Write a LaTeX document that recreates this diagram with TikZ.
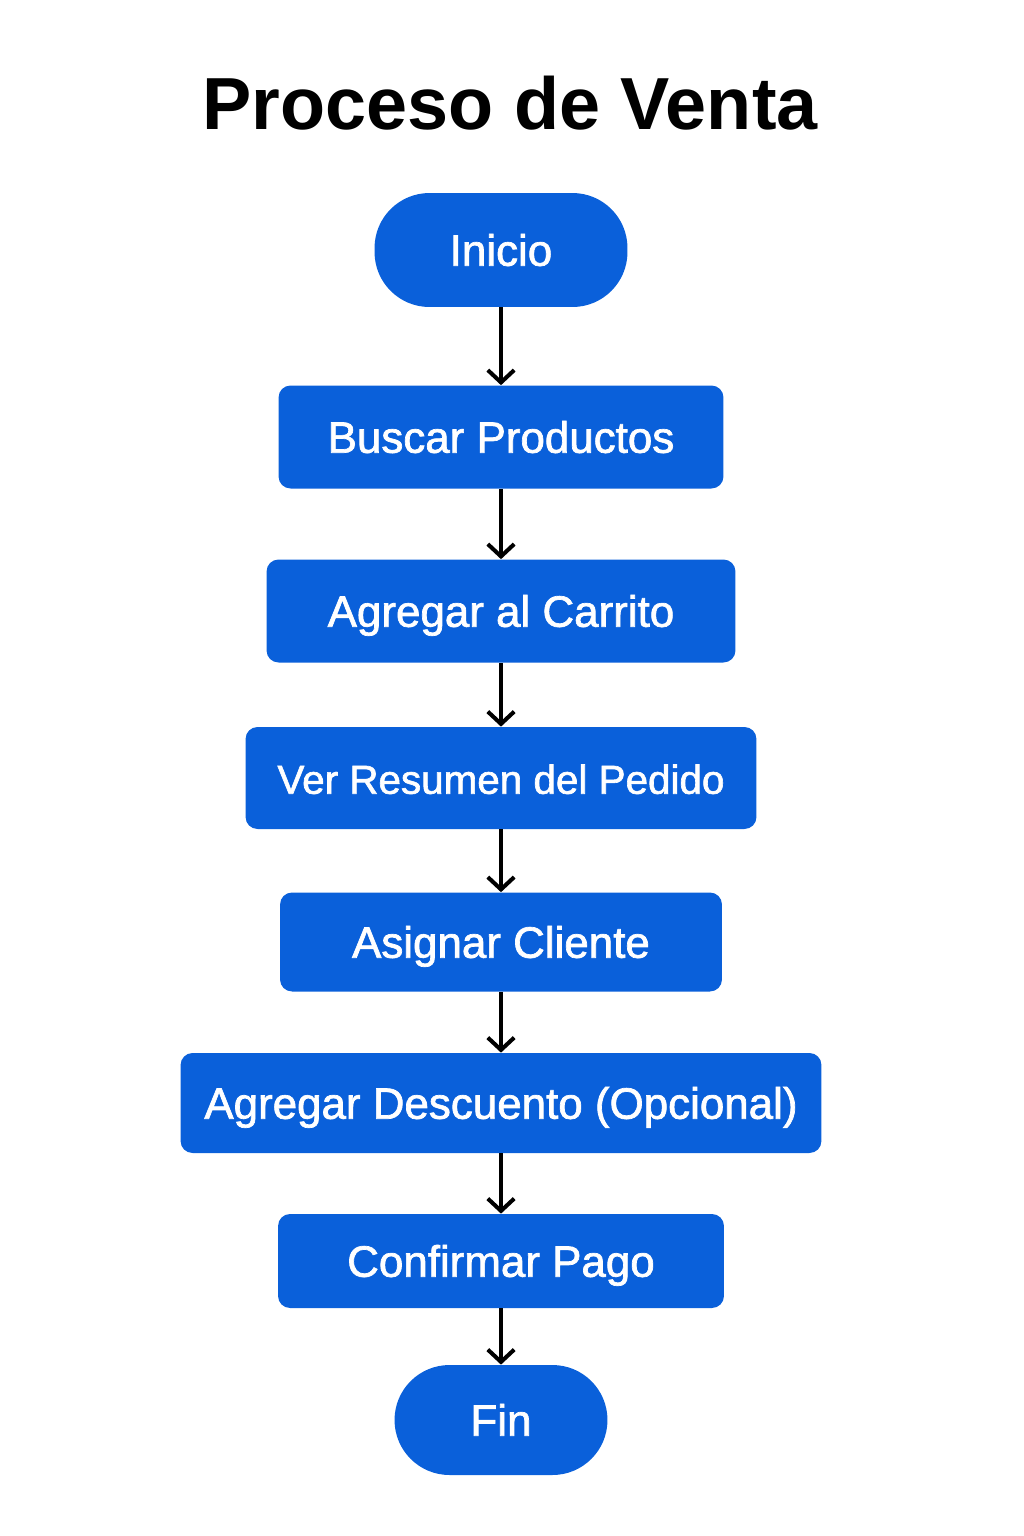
\documentclass[tikz,border=0pt]{standalone}
\usepackage{fontspec}
\setmainfont{Liberation Sans}
\newfontfamily\boxfont{Liberation Sans}[FakeBold=1.6]
\usetikzlibrary{arrows.meta,positioning,shapes}
\definecolor{ventablue}{HTML}{0A60DA}

\begin{document}
\begin{tikzpicture}[x=0.02cm,y=-0.02cm]
	        \tikzstyle{terminal}=[fill=ventablue,text=white,inner sep=0pt,rounded corners=1.1cm,font=\boxfont\fontsize{25}{30}\selectfont,text height=17.9pt,text depth=0pt]
	    	\tikzstyle{stepbox}=[fill=ventablue,text=white,inner sep=0pt,rounded corners=0.24cm,font=\boxfont\fontsize{25}{30}\selectfont,text height=17.9pt,text depth=0pt]
	    	\tikzstyle{flow}=[line width=2.3pt,arrows={-Straight Barb[length=7pt,width=15pt,line width=2.3pt]}]

	    	\useasboundingbox (0,0) rectangle (1024,1536);

	    	\node[font=\bfseries\fontsize{42}{50}\selectfont,text height=30pt,text depth=0pt] (title) at (510,103) {Proceso de Venta};

	    	\node[terminal,minimum width=5.06cm,minimum height=2.28cm] (inicio) at (501,250) {Inicio};
	    	\node[stepbox,minimum width=8.9cm,minimum height=2.06cm] (buscar) at (501,437) {Buscar Productos};
	    	\node[stepbox,minimum width=9.38cm,minimum height=2.06cm] (carrito) at (501,611) {Agregar al Carrito};
	    	\node[stepbox,minimum width=10.22cm,minimum height=2.04cm] (resumen) at (501,778) {\fontsize{23}{28}\selectfont Ver Resumen del Pedido};
	    	\node[stepbox,minimum width=8.84cm,minimum height=1.98cm] (cliente) at (501,942) {Asignar Cliente};
	    	\node[stepbox,minimum width=12.82cm,minimum height=2cm] (descuento) at (501,1103) {Agregar Descuento (Opcional)};
	    	\node[stepbox,minimum width=8.92cm,minimum height=1.88cm] (pago) at (501,1261) {Confirmar Pago};
	    	\node[terminal,minimum width=4.26cm,minimum height=2.2cm] (fin) at (501,1420) {Fin};

	    	\draw[flow] (inicio) -- (buscar);
	    	\draw[flow] (buscar) -- (carrito);
	    	\draw[flow] (carrito) -- (resumen);
	    	\draw[flow] (resumen) -- (cliente);
	    	\draw[flow] (cliente) -- (descuento);
	    	\draw[flow] (descuento) -- (pago);
	    	\draw[flow] (pago) -- (fin);
	    \end{tikzpicture}
\end{document}
